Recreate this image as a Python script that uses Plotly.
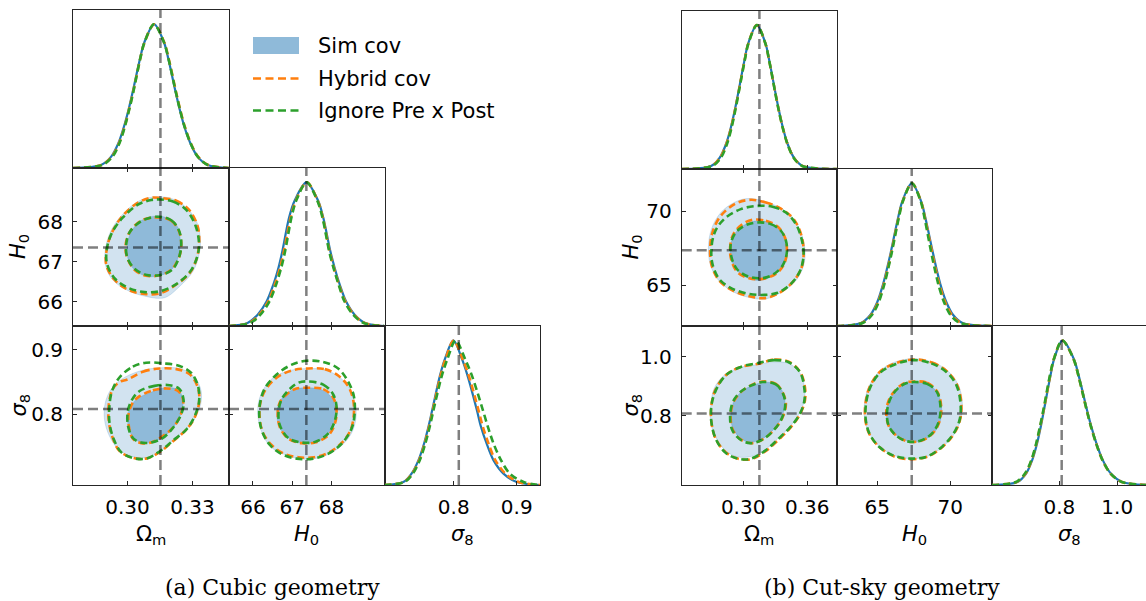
import plotly.graph_objects as go

W, H = 1146, 601

# ---------------- data ----------------
PARAMS = ["om", "h0", "s8"]
TRUTH = {"om": 0.3152, "h0": 67.36, "s8": 0.808}

# normalised 1D heights at which the marginal curves were read
LEVELS = [0, 0.021, 0.079, 0.172, 0.289, 0.406, 0.522, 0.755, 0.872, 1.0,
          0.872, 0.755, 0.522, 0.406, 0.289, 0.172, 0.079, 0.021, 0]

# ---- (a) cubic geometry ----
CUBIC_RANGES = {"om": [0.2749, 0.3468], "h0": [65.39, 69.35], "s8": [0.690, 0.937]}
CUBIC_TICKS = {"om": [0.30, 0.33], "h0": [66, 67, 68], "s8": [0.8, 0.9]}
CUBIC_TICKTEXT = {"om": ["0.30", "0.33"], "h0": ["66", "67", "68"], "s8": ["0.8", "0.9"]}

CUBIC_1D = {
    "om": {
        "sim": [0.2749, 0.2878, 0.2925, 0.2958, 0.2984, 0.3005, 0.3023, 0.3057, 0.3077, 0.3123,
                0.3169, 0.3189, 0.3223, 0.3241, 0.3262, 0.3290, 0.3323, 0.3370, 0.3468],
        "hybrid": [0.2749, 0.2881, 0.2928, 0.2961, 0.2987, 0.3007, 0.3025, 0.3058, 0.3078, 0.3123,
                   0.3170, 0.3191, 0.3225, 0.3243, 0.3264, 0.3292, 0.3325, 0.3372, 0.3468],
        "ignore": [0.2749, 0.2884, 0.2931, 0.2963, 0.2988, 0.3008, 0.3026, 0.3058, 0.3078, 0.3122,
                   0.3169, 0.3190, 0.3224, 0.3242, 0.3263, 0.3291, 0.3324, 0.3371, 0.3468],
    },
    "h0": {
        "sim": [65.39, 65.86, 66.12, 66.35, 66.52, 66.65, 66.75, 66.92, 67.06, 67.36,
                67.66, 67.79, 67.97, 68.08, 68.21, 68.37, 68.59, 68.86, 69.35],
        "hybrid": [65.39, 65.90, 66.16, 66.39, 66.56, 66.69, 66.79, 66.96, 67.09, 67.37,
                   67.65, 67.78, 67.95, 68.06, 68.19, 68.35, 68.57, 68.84, 69.35],
        "ignore": [65.39, 65.93, 66.19, 66.42, 66.59, 66.72, 66.82, 66.98, 67.10, 67.37,
                   67.64, 67.77, 67.94, 68.05, 68.18, 68.33, 68.55, 68.82, 69.35],
    },
    "s8": {
        "sim": [0.690, 0.720, 0.733, 0.744, 0.753, 0.760, 0.766, 0.778, 0.786, 0.7995,
                0.813, 0.822, 0.8365, 0.843, 0.852, 0.863, 0.879, 0.900, 0.937],
        "hybrid": [0.690, 0.721, 0.734, 0.745, 0.754, 0.761, 0.767, 0.779, 0.787, 0.800,
                   0.814, 0.824, 0.839, 0.846, 0.855, 0.866, 0.882, 0.903, 0.937],
        "ignore": [0.690, 0.722, 0.735, 0.746, 0.755, 0.762, 0.768, 0.781, 0.790, 0.803,
                   0.818, 0.829, 0.846, 0.854, 0.863, 0.875, 0.889, 0.911, 0.937],
    },
}

CUBIC_OM_H0 = {
    "sim": {
        "95": ([0.3133, 0.3210, 0.3271, 0.3317, 0.3336, 0.3330, 0.3302, 0.3240, 0.3171, 0.3086, 0.2994, 0.2925, 0.2897, 0.2902, 0.2932, 0.2994, 0.3056],
               [68.63, 68.57, 68.36, 68.03, 67.60, 67.18, 66.76, 66.38, 66.10, 66.13, 66.30, 66.59, 66.97, 67.43, 67.86, 68.28, 68.53]),
        "68": ([0.3133, 0.3194, 0.3233, 0.3243, 0.3237, 0.3210, 0.3156, 0.3094, 0.3040, 0.3006, 0.2999, 0.3012, 0.3056],
               [68.15, 68.07, 67.86, 67.56, 67.18, 66.84, 66.66, 66.63, 66.76, 67.01, 67.35, 67.69, 68.01]),
    },
    "hybrid": {
        "95": ([0.3151, 0.3225, 0.3287, 0.3325, 0.3330, 0.3317, 0.3287, 0.3217, 0.3151, 0.3079, 0.3002, 0.2940, 0.2902, 0.2906, 0.2925, 0.2971, 0.3040, 0.3102],
               [68.60, 68.53, 68.28, 67.86, 67.43, 67.05, 66.72, 66.40, 66.21, 66.19, 66.30, 66.55, 66.93, 67.35, 67.69, 68.11, 68.45, 68.60]),
        "68": ([0.3140, 0.3202, 0.3237, 0.3248, 0.3237, 0.3202, 0.3148, 0.3086, 0.3032, 0.2999, 0.2991, 0.3009, 0.3063],
               [68.11, 68.03, 67.77, 67.43, 67.10, 66.80, 66.66, 66.65, 66.80, 67.10, 67.39, 67.73, 68.03]),
    },
    "ignore": {
        "95": ([0.3151, 0.3210, 0.3271, 0.3314, 0.3330, 0.3320, 0.3290, 0.3225, 0.3156, 0.3079, 0.3002, 0.2940, 0.2905, 0.2906, 0.2929, 0.2979, 0.3048, 0.3109],
               [68.56, 68.51, 68.30, 67.90, 67.43, 67.10, 66.76, 66.44, 66.27, 66.24, 66.35, 66.59, 66.97, 67.35, 67.73, 68.11, 68.43, 68.55]),
        "68": ([0.3140, 0.3202, 0.3237, 0.3248, 0.3237, 0.3206, 0.3151, 0.3089, 0.3032, 0.2999, 0.2994, 0.3012, 0.3068],
               [68.13, 68.04, 67.79, 67.45, 67.10, 66.80, 66.67, 66.67, 66.83, 67.11, 67.42, 67.76, 68.03]),
    },
}

CUBIC_OM_S8 = {
    "sim": {
        "95": ([0.3056, 0.3148, 0.3240, 0.3302, 0.3336, 0.3340, 0.3320, 0.3279, 0.3217, 0.3156, 0.3094, 0.3025, 0.2963, 0.2917, 0.2894, 0.2898, 0.2925, 0.2971],
               [0.867, 0.872, 0.871, 0.860, 0.841, 0.820, 0.800, 0.779, 0.761, 0.743, 0.733, 0.734, 0.744, 0.766, 0.792, 0.818, 0.839, 0.854]),
        "68": ([0.3102, 0.3171, 0.3233, 0.3256, 0.3248, 0.3217, 0.3171, 0.3117, 0.3063, 0.3022, 0.3002, 0.3006, 0.3040],
               [0.833, 0.841, 0.838, 0.823, 0.802, 0.782, 0.766, 0.757, 0.756, 0.766, 0.784, 0.805, 0.823]),
    },
    "hybrid": {
        "95": ([0.3002, 0.3071, 0.3148, 0.3225, 0.3287, 0.3325, 0.3330, 0.3310, 0.3271, 0.3210, 0.3148, 0.3086, 0.3017, 0.2963, 0.2932, 0.2914, 0.2914, 0.2932, 0.2963],
               [0.854, 0.866, 0.871, 0.870, 0.862, 0.841, 0.818, 0.795, 0.776, 0.758, 0.741, 0.731, 0.733, 0.743, 0.763, 0.789, 0.815, 0.839, 0.850]),
        "68": ([0.3056, 0.3117, 0.3179, 0.3233, 0.3256, 0.3248, 0.3217, 0.3163, 0.3109, 0.3063, 0.3025, 0.3006, 0.3006, 0.3025],
               [0.828, 0.837, 0.840, 0.836, 0.823, 0.802, 0.782, 0.766, 0.756, 0.755, 0.762, 0.782, 0.802, 0.818]),
    },
    "ignore": {
        "95": ([0.2963, 0.3025, 0.3086, 0.3163, 0.3240, 0.3294, 0.3325, 0.3330, 0.3310, 0.3271, 0.3210, 0.3148, 0.3086, 0.3025, 0.2971, 0.2937, 0.2917, 0.2917, 0.2929],
               [0.857, 0.874, 0.880, 0.879, 0.875, 0.864, 0.844, 0.820, 0.797, 0.776, 0.759, 0.742, 0.731, 0.732, 0.741, 0.761, 0.787, 0.813, 0.836]),
        "68": ([0.3056, 0.3125, 0.3194, 0.3240, 0.3259, 0.3248, 0.3210, 0.3163, 0.3109, 0.3063, 0.3025, 0.3002, 0.3002, 0.3022],
               [0.836, 0.844, 0.845, 0.839, 0.820, 0.800, 0.779, 0.763, 0.756, 0.756, 0.763, 0.783, 0.805, 0.823]),
    },
}

CUBIC_H0_S8 = {
    "sim": {
        "95": ([67.41, 67.83, 68.17, 68.42, 68.57, 68.63, 68.55, 68.34, 68.00, 67.58, 67.16, 66.78, 66.44, 66.23, 66.13, 66.14, 66.27, 66.52, 66.95],
               [0.871, 0.869, 0.859, 0.844, 0.823, 0.800, 0.776, 0.756, 0.740, 0.731, 0.731, 0.738, 0.750, 0.771, 0.795, 0.818, 0.839, 0.857, 0.868]),
        "68": ([67.37, 67.75, 68.00, 68.11, 68.08, 67.92, 67.62, 67.28, 66.95, 66.72, 66.61, 66.65, 66.83, 67.07],
               [0.841, 0.838, 0.826, 0.807, 0.787, 0.769, 0.757, 0.755, 0.761, 0.775, 0.795, 0.815, 0.831, 0.839]),
    },
    "hybrid": {
        "95": ([67.41, 67.83, 68.17, 68.42, 68.55, 68.57, 68.49, 68.27, 67.92, 67.54, 67.16, 66.78, 66.46, 66.25, 66.17, 66.19, 66.33, 66.61, 66.99],
               [0.871, 0.870, 0.860, 0.844, 0.823, 0.800, 0.776, 0.756, 0.740, 0.733, 0.733, 0.739, 0.753, 0.772, 0.795, 0.818, 0.839, 0.857, 0.868]),
        "68": ([67.41, 67.79, 68.04, 68.13, 68.08, 67.92, 67.58, 67.24, 66.90, 66.69, 66.63, 66.69, 66.90, 67.11],
               [0.841, 0.839, 0.826, 0.805, 0.784, 0.767, 0.756, 0.755, 0.762, 0.779, 0.800, 0.819, 0.833, 0.840]),
    },
    "ignore": {
        "95": ([67.37, 67.79, 68.17, 68.42, 68.57, 68.59, 68.52, 68.30, 67.96, 67.54, 67.11, 66.73, 66.42, 66.23, 66.16, 66.19, 66.31, 66.61, 66.99],
               [0.883, 0.881, 0.871, 0.851, 0.828, 0.802, 0.779, 0.757, 0.740, 0.731, 0.731, 0.738, 0.753, 0.774, 0.797, 0.820, 0.841, 0.862, 0.877]),
        "68": ([67.37, 67.79, 68.04, 68.13, 68.07, 67.90, 67.58, 67.24, 66.90, 66.69, 66.65, 66.73, 66.95, 67.16],
               [0.851, 0.846, 0.831, 0.810, 0.787, 0.769, 0.757, 0.756, 0.763, 0.782, 0.802, 0.823, 0.840, 0.849]),
    },
}

# ---- (b) cut-sky geometry ----
CUT_RANGES = {"om": [0.2425, 0.3878], "h0": [62.25, 72.85], "s8": [0.567, 1.103]}
CUT_TICKS = {"om": [0.30, 0.36], "h0": [65, 70], "s8": [0.8, 1.0]}
CUT_TICKTEXT = {"om": ["0.30", "0.36"], "h0": ["65", "70"], "s8": ["0.8", "1.0"]}

CUT_1D = {
    "om": {
        "sim": [0.2425, 0.2700, 0.2781, 0.2839, 0.2885, 0.2921, 0.2952, 0.3012, 0.3047, 0.3128,
                0.3209, 0.3244, 0.3304, 0.3335, 0.3371, 0.3417, 0.3475, 0.3556, 0.3878],
        "hybrid": [0.2425, 0.2705, 0.2785, 0.2842, 0.2888, 0.2923, 0.2954, 0.3013, 0.3048, 0.3128,
                   0.3208, 0.3243, 0.3303, 0.3334, 0.3370, 0.3416, 0.3474, 0.3555, 0.3878],
        "ignore": [0.2425, 0.2712, 0.2792, 0.2848, 0.2892, 0.2926, 0.2956, 0.3015, 0.3049, 0.3129,
                   0.3208, 0.3243, 0.3302, 0.3333, 0.3369, 0.3415, 0.3472, 0.3552, 0.3878],
    },
    "h0": {
        "sim": [62.25, 63.89, 64.54, 65.02, 65.39, 65.68, 65.94, 66.42, 66.71, 67.36,
                68.01, 68.30, 68.79, 69.04, 69.33, 69.71, 70.18, 70.84, 72.85],
        "hybrid": [62.25, 63.95, 64.60, 65.08, 65.44, 65.73, 65.98, 66.45, 66.74, 67.37,
                   68.00, 68.27, 68.74, 68.98, 69.26, 69.63, 70.09, 70.74, 72.85],
        "ignore": [62.25, 64.00, 64.65, 65.12, 65.48, 65.76, 66.01, 66.47, 66.75, 67.37,
                   67.98, 68.24, 68.68, 68.92, 69.19, 69.55, 70.00, 70.65, 72.85],
    },
    "s8": {
        "sim": [0.567, 0.655, 0.685, 0.706, 0.723, 0.736, 0.747, 0.769, 0.782, 0.811,
                0.850, 0.867, 0.895, 0.910, 0.928, 0.950, 0.978, 1.017, 1.103],
        "hybrid": [0.567, 0.652, 0.683, 0.704, 0.721, 0.734, 0.746, 0.768, 0.781, 0.810,
                   0.849, 0.866, 0.894, 0.909, 0.927, 0.949, 0.977, 1.016, 1.103],
        "ignore": [0.567, 0.650, 0.681, 0.703, 0.720, 0.733, 0.745, 0.767, 0.781, 0.810,
                   0.849, 0.866, 0.894, 0.909, 0.927, 0.949, 0.977, 1.016, 1.103],
    },
}

CUT_OM_H0 = {
    "sim": {
        "95": ([0.3041, 0.3181, 0.3322, 0.3447, 0.3534, 0.3578, 0.3566, 0.3494, 0.3369, 0.3213, 0.3041, 0.2884, 0.2759, 0.2691, 0.2675, 0.2703, 0.2791, 0.2916],
               [70.86, 70.70, 70.32, 69.69, 68.68, 67.45, 66.33, 65.32, 64.58, 64.08, 64.20, 64.65, 65.43, 66.44, 67.56, 68.79, 69.91, 70.59]),
        "68": ([0.3134, 0.3259, 0.3353, 0.3400, 0.3409, 0.3369, 0.3275, 0.3150, 0.3025, 0.2931, 0.2884, 0.2884, 0.2931, 0.3025],
               [69.35, 69.20, 68.68, 68.01, 67.22, 66.33, 65.65, 65.32, 65.54, 66.10, 66.89, 67.78, 68.57, 69.13]),
    },
    "hybrid": {
        "95": ([0.3072, 0.3213, 0.3353, 0.3472, 0.3541, 0.3566, 0.3547, 0.3463, 0.3322, 0.3197, 0.3056, 0.2900, 0.2775, 0.2706, 0.2691, 0.2713, 0.2791, 0.2931],
               [70.77, 70.59, 70.18, 69.47, 68.46, 67.34, 66.21, 65.21, 64.42, 64.13, 64.26, 64.65, 65.32, 66.33, 67.45, 68.57, 69.69, 70.52]),
        "68": ([0.3088, 0.3213, 0.3322, 0.3391, 0.3409, 0.3384, 0.3306, 0.3181, 0.3056, 0.2947, 0.2891, 0.2878, 0.2909, 0.2994],
               [69.42, 69.35, 68.97, 68.23, 67.34, 66.44, 65.77, 65.43, 65.47, 65.88, 66.66, 67.56, 68.46, 69.13]),
    },
    "ignore": {
        "95": ([0.3134, 0.3275, 0.3400, 0.3494, 0.3547, 0.3566, 0.3534, 0.3447, 0.3322, 0.3197, 0.3056, 0.2900, 0.2775, 0.2713, 0.2703, 0.2734, 0.2822, 0.2978],
               [70.36, 70.30, 69.91, 69.13, 68.12, 67.11, 65.99, 65.09, 64.49, 64.35, 64.42, 64.76, 65.43, 66.44, 67.45, 68.57, 69.47, 70.14]),
        "68": ([0.3134, 0.3259, 0.3353, 0.3400, 0.3409, 0.3369, 0.3275, 0.3166, 0.3041, 0.2941, 0.2891, 0.2884, 0.2931, 0.3025],
               [69.24, 69.13, 68.68, 68.01, 67.22, 66.33, 65.70, 65.47, 65.61, 66.10, 66.89, 67.78, 68.57, 69.06]),
    },
}

CUT_OM_S8 = {
    "sim": {
        "95": ([0.3134, 0.3291, 0.3431, 0.3525, 0.3572, 0.3572, 0.3525, 0.3447, 0.3338, 0.3213, 0.3072, 0.2947, 0.2838, 0.2744, 0.2697, 0.2697, 0.2728, 0.2822, 0.2963],
               [0.973, 0.982, 0.976, 0.948, 0.903, 0.852, 0.807, 0.767, 0.728, 0.688, 0.663, 0.662, 0.682, 0.728, 0.779, 0.835, 0.892, 0.937, 0.962]),
        "68": ([0.3213, 0.3322, 0.3378, 0.3391, 0.3353, 0.3275, 0.3166, 0.3056, 0.2963, 0.2900, 0.2884, 0.2909, 0.2978, 0.3088],
               [0.914, 0.903, 0.875, 0.835, 0.790, 0.750, 0.720, 0.711, 0.728, 0.762, 0.803, 0.846, 0.880, 0.903]),
    },
    "hybrid": {
        "95": ([0.3150, 0.3291, 0.3431, 0.3534, 0.3578, 0.3578, 0.3534, 0.3447, 0.3338, 0.3213, 0.3072, 0.2947, 0.2838, 0.2744, 0.2703, 0.2703, 0.2738, 0.2838, 0.2978],
               [0.976, 0.990, 0.982, 0.948, 0.897, 0.852, 0.807, 0.762, 0.722, 0.682, 0.654, 0.656, 0.677, 0.722, 0.779, 0.835, 0.886, 0.937, 0.965]),
        "68": ([0.3181, 0.3306, 0.3369, 0.3400, 0.3369, 0.3291, 0.3181, 0.3072, 0.2972, 0.2900, 0.2884, 0.2909, 0.2978, 0.3072],
               [0.916, 0.908, 0.880, 0.841, 0.795, 0.754, 0.720, 0.708, 0.722, 0.756, 0.801, 0.846, 0.880, 0.903]),
    },
    "ignore": {
        "95": ([0.3150, 0.3291, 0.3431, 0.3534, 0.3572, 0.3572, 0.3525, 0.3441, 0.3328, 0.3203, 0.3056, 0.2931, 0.2831, 0.2744, 0.2703, 0.2703, 0.2744, 0.2838, 0.2978],
               [0.979, 0.988, 0.980, 0.946, 0.894, 0.849, 0.803, 0.762, 0.722, 0.682, 0.654, 0.658, 0.677, 0.722, 0.779, 0.835, 0.886, 0.937, 0.965]),
        "68": ([0.3181, 0.3306, 0.3369, 0.3394, 0.3363, 0.3284, 0.3175, 0.3066, 0.2966, 0.2894, 0.2878, 0.2903, 0.2972, 0.3066],
               [0.914, 0.906, 0.878, 0.838, 0.793, 0.751, 0.719, 0.708, 0.722, 0.756, 0.801, 0.846, 0.880, 0.901]),
    },
}

CUT_H0_S8 = {
    "sim": {
        "95": ([67.49, 68.75, 69.78, 70.51, 70.81, 70.74, 70.35, 69.55, 68.52, 67.38, 66.24, 65.21, 64.48, 64.14, 64.14, 64.41, 65.10, 66.12],
               [0.993, 0.982, 0.954, 0.908, 0.852, 0.795, 0.745, 0.699, 0.665, 0.656, 0.665, 0.694, 0.739, 0.790, 0.846, 0.897, 0.948, 0.980]),
        "68": ([67.49, 68.41, 69.09, 69.39, 69.32, 68.86, 68.07, 67.15, 66.35, 65.78, 65.62, 65.85, 66.35, 66.92],
               [0.916, 0.908, 0.880, 0.835, 0.784, 0.742, 0.716, 0.714, 0.733, 0.767, 0.812, 0.858, 0.892, 0.912]),
    },
    "hybrid": {
        "95": ([67.49, 68.75, 69.78, 70.46, 70.74, 70.69, 70.28, 69.50, 68.45, 67.31, 66.17, 65.17, 64.46, 64.18, 64.21, 64.48, 65.17, 66.17],
               [0.990, 0.980, 0.950, 0.905, 0.849, 0.792, 0.742, 0.697, 0.663, 0.654, 0.663, 0.694, 0.739, 0.790, 0.846, 0.897, 0.948, 0.976]),
        "68": ([67.49, 68.41, 69.09, 69.37, 69.28, 68.82, 68.00, 67.08, 66.31, 65.78, 65.62, 65.83, 66.35, 66.92],
               [0.916, 0.912, 0.883, 0.835, 0.784, 0.742, 0.716, 0.714, 0.733, 0.767, 0.812, 0.858, 0.892, 0.912]),
    },
    "ignore": {
        "95": ([67.49, 68.70, 69.73, 70.42, 70.69, 70.65, 70.23, 69.46, 68.41, 67.31, 66.17, 65.17, 64.48, 64.21, 64.25, 64.53, 65.21, 66.24],
               [0.988, 0.977, 0.948, 0.903, 0.846, 0.790, 0.741, 0.697, 0.663, 0.656, 0.665, 0.694, 0.739, 0.790, 0.846, 0.897, 0.946, 0.974]),
        "68": ([67.49, 68.41, 69.09, 69.32, 69.23, 68.77, 67.95, 67.08, 66.31, 65.78, 65.67, 65.90, 66.40, 66.97],
               [0.914, 0.908, 0.880, 0.835, 0.784, 0.742, 0.716, 0.714, 0.733, 0.767, 0.812, 0.858, 0.892, 0.910]),
    },
}

LEGEND_LABELS = ["Sim cov", "Hybrid cov", "Ignore Pre x Post"]
CAPTIONS = ["(a) Cubic geometry", "(b) Cut-sky geometry"]
AXIS_TITLES = {"om": "Ω<sub>m</sub>", "h0": "<i>H</i><sub>0</sub>", "s8": "<i>σ</i><sub>8</sub>"}

# ---------------- styling / layout ----------------
C_BLUE = "#1f77b4"
C_ORANGE = "#ff7f0e"
C_GREEN = "#2ca02c"
FILL_95 = "rgb(210,227,240)"
FILL_68 = "rgb(143,186,217)"
FRAME = "#262626"
TICKFONT = dict(family="DejaVu Sans", size=20, color="black")
LABELFONT = dict(family="DejaVu Sans", size=21, color="black")
DASH = "7px,4px"
TRUTH_LINE = dict(color="rgba(0,0,0,0.5)", width=2.5, dash="10px,5px")

CORNERS = [
    dict(cols=[73, 229, 384.5, 540], rows=[10, 168, 326, 485], ranges=CUBIC_RANGES,
         ticks=CUBIC_TICKS, ticktext=CUBIC_TICKTEXT, one_d=CUBIC_1D,
         two_d={("om", "h0"): CUBIC_OM_H0, ("om", "s8"): CUBIC_OM_S8, ("h0", "s8"): CUBIC_H0_S8},
         ylab_x=19, caption_x=272),
    dict(cols=[681.7, 837, 992, 1147], rows=[10.7, 169, 326, 485], ranges=CUT_RANGES,
         ticks=CUT_TICKS, ticktext=CUT_TICKTEXT, one_d=CUT_1D,
         two_d={("om", "h0"): CUT_OM_H0, ("om", "s8"): CUT_OM_S8, ("h0", "s8"): CUT_H0_S8},
         ylab_x=631, caption_x=882),
]

fig = go.Figure()
layout_upd = {}
shapes = []
annotations = []
n_ax = 0


def closed(seq):
    return list(seq) + [seq[0]]


def names(n):
    s = "" if n == 1 else str(n)
    return f"xaxis{s}", f"yaxis{s}", f"x{s}", f"y{s}"


for corner in CORNERS:
    cols, rows, rng = corner["cols"], corner["rows"], corner["ranges"]
    for i in range(3):
        for j in range(i + 1):
            n_ax += 1
            xa, ya, xr, yr = names(n_ax)
            px, py = PARAMS[j], PARAMS[i]
            x0, x1 = cols[j], cols[j + 1]
            y0, y1 = rows[i], rows[i + 1]
            clipped = x1 > W
            xrange = list(rng[px])
            if clipped:
                xrange[1] = rng[px][0] + (W - x0) / (x1 - x0) * (rng[px][1] - rng[px][0])
            is1d = i == j
            layout_upd[xa] = dict(
                domain=[x0 / W, min(x1, W) / W], range=xrange, anchor=yr,
                showgrid=False, zeroline=False, showline=True, linecolor=FRAME, linewidth=1,
                mirror=True if is1d else "ticks", ticks="inside", ticklen=4, tickwidth=1,
                tickcolor=FRAME, tickvals=corner["ticks"][px], ticktext=corner["ticktext"][px],
                showticklabels=(i == 2), tickfont=TICKFONT, ticklabelstandoff=4, fixedrange=True)
            if is1d:
                layout_upd[ya] = dict(
                    domain=[1 - y1 / H, 1 - y0 / H], range=[0, 1.1], anchor=xr,
                    showgrid=False, zeroline=False, showline=True, linecolor=FRAME, linewidth=1,
                    mirror=not clipped, ticks="", showticklabels=False, fixedrange=True)
            else:
                layout_upd[ya] = dict(
                    domain=[1 - y1 / H, 1 - y0 / H], range=rng[py], anchor=xr,
                    showgrid=False, zeroline=False, showline=True, linecolor=FRAME, linewidth=1,
                    mirror="ticks", ticks="inside", ticklen=4, tickwidth=1, tickcolor=FRAME,
                    tickvals=corner["ticks"][py], ticktext=corner["ticktext"][py],
                    showticklabels=(j == 0), tickfont=TICKFONT, ticklabelstandoff=5,
                    fixedrange=True)

            if is1d:
                curves = corner["one_d"][px]
                for key, col, dash, wid in [("sim", C_BLUE, "solid", 2.2),
                                            ("hybrid", C_ORANGE, DASH, 2.6),
                                            ("ignore", C_GREEN, DASH, 2.6)]:
                    fig.add_trace(go.Scatter(
                        x=curves[key], y=LEVELS, xaxis=xr, yaxis=yr, mode="lines",
                        line=dict(color=col, width=wid, dash=dash, shape="spline", smoothing=0.9),
                        hoverinfo="skip", showlegend=False))
                shapes.append(dict(type="line", xref=xr, yref=f"{yr} domain",
                                   x0=TRUTH[px], x1=TRUTH[px], y0=0, y1=1,
                                   line=TRUTH_LINE, layer="above"))
            else:
                cont = corner["two_d"][(px, py)]
                for lev, fc in [("95", FILL_95), ("68", FILL_68)]:
                    xs, ys = cont["sim"][lev]
                    fig.add_trace(go.Scatter(
                        x=closed(xs), y=closed(ys), xaxis=xr, yaxis=yr, mode="lines",
                        fill="toself", fillcolor=fc,
                        line=dict(color="rgba(31,119,180,0.18)", width=1, shape="spline", smoothing=1.0),
                        hoverinfo="skip", showlegend=False))
                for key, col in [("hybrid", C_ORANGE), ("ignore", C_GREEN)]:
                    for lev in ["95", "68"]:
                        xs, ys = cont[key][lev]
                        fig.add_trace(go.Scatter(
                            x=closed(xs), y=closed(ys), xaxis=xr, yaxis=yr, mode="lines",
                            line=dict(color=col, width=2.6, dash=DASH, shape="spline", smoothing=1.0),
                            hoverinfo="skip", showlegend=False))
                shapes.append(dict(type="line", xref=xr, yref=f"{yr} domain",
                                   x0=TRUTH[px], x1=TRUTH[px], y0=0, y1=1,
                                   line=TRUTH_LINE, layer="above"))
                shapes.append(dict(type="line", xref=f"{xr} domain", yref=yr,
                                   x0=0, x1=1, y0=TRUTH[py], y1=TRUTH[py],
                                   line=TRUTH_LINE, layer="above"))

    # axis titles
    for j, p in enumerate(PARAMS):
        cx = (corner["cols"][j] + min(corner["cols"][j + 1], W + 1)) / 2
        annotations.append(dict(text=AXIS_TITLES[p], xref="paper", yref="paper",
                                x=cx / W, y=1 - 535 / H, xanchor="center", yanchor="middle",
                                showarrow=False, font=LABELFONT))
    for i, p in [(1, "h0"), (2, "s8")]:
        cy = (corner["rows"][i] + corner["rows"][i + 1]) / 2
        annotations.append(dict(text=AXIS_TITLES[p], xref="paper", yref="paper",
                                x=corner["ylab_x"] / W, y=1 - cy / H, xanchor="center",
                                yanchor="middle", textangle=-90, showarrow=False, font=LABELFONT))

for k, corner in enumerate(CORNERS):
    annotations.append(dict(text=CAPTIONS[k], xref="paper", yref="paper",
                            x=corner["caption_x"] / W, y=1 - 587 / H, xanchor="center",
                            yanchor="middle", showarrow=False,
                            font=dict(family="DejaVu Serif", size=22, color="black")))

# legend (drawn in paper space)
shapes.append(dict(type="rect", xref="paper", yref="paper", x0=253 / W, x1=299 / W,
                   y0=1 - 54 / H, y1=1 - 37 / H, fillcolor=FILL_68, line=dict(width=0)))
for yy, col in [(78.5, C_ORANGE), (110.5, C_GREEN)]:
    shapes.append(dict(type="line", xref="paper", yref="paper", x0=253 / W, x1=299 / W,
                       y0=1 - yy / H, y1=1 - yy / H,
                       line=dict(color=col, width=2.6, dash="8px,4.5px")))
for yy, lab in zip([45.5, 78.5, 110.5], LEGEND_LABELS):
    annotations.append(dict(text=lab, xref="paper", yref="paper", x=316 / W, y=1 - yy / H,
                            xanchor="left", yanchor="middle", showarrow=False,
                            font=dict(family="DejaVu Sans", size=21, color="black")))

fig.update_layout(
    width=W, height=H, margin=dict(l=0, r=0, t=0, b=0),
    paper_bgcolor="white", plot_bgcolor="white", showlegend=False,
    shapes=shapes, annotations=annotations, **layout_upd)

fig.write_html("out.html",
               config={"displayModeBar": False, "staticPlot": True},
               post_script="document.body.style.margin='0px';"
                           "document.body.style.overflow='hidden';")
